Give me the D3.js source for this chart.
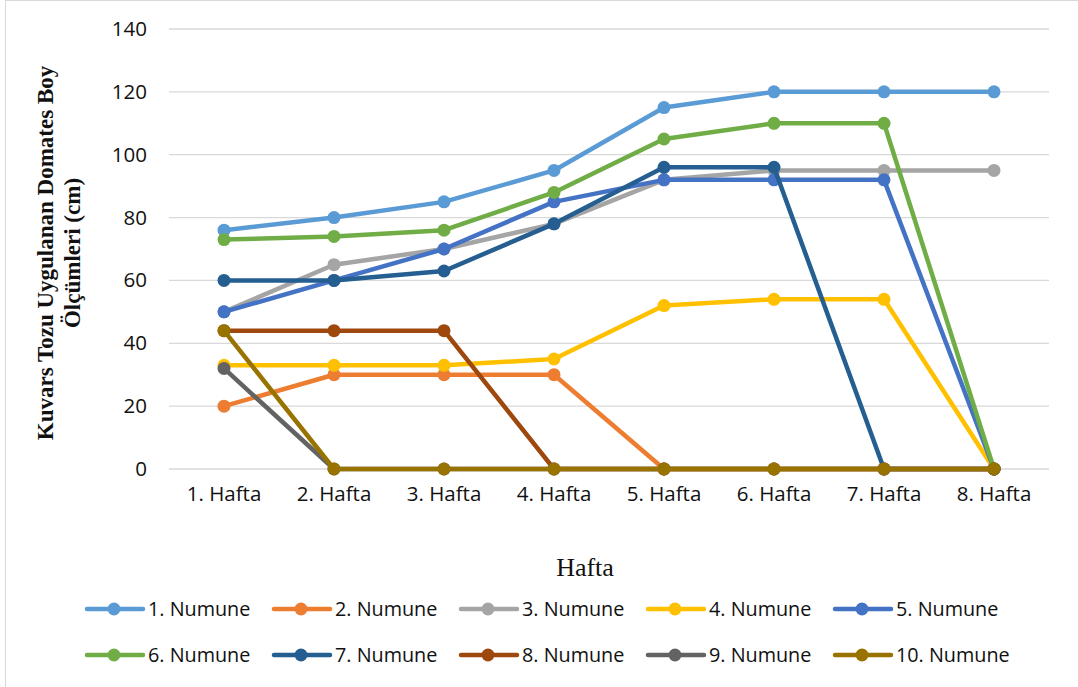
<!DOCTYPE html>
<html>
<head>
<meta charset="utf-8">
<script src="https://cdn.jsdelivr.net/npm/d3@7"></script>
<style>
  html, body { margin: 0; padding: 0; background: #fff; }
  svg { display: block; }
</style>
</head>
<body>
<svg id="chart" width="1078" height="687"></svg>
<script>
// Weeks on the x axis
const weeks = ["1. Hafta", "2. Hafta", "3. Hafta", "4. Hafta", "5. Hafta", "6. Hafta", "7. Hafta", "8. Hafta"];

// Plant height per sample (cm)
const numune1  = [76, 80, 85, 95, 115, 120, 120, 120];
const numune2  = [20, 30, 30, 30, 0, 0, 0, 0];
const numune3  = [50, 65, 70, 78, 92, 95, 95, 95];
const numune4  = [33, 33, 33, 35, 52, 54, 54, 0];
const numune5  = [50, 60, 70, 85, 92, 92, 92, 0];
const numune6  = [73, 74, 76, 88, 105, 110, 110, 0];
const numune7  = [60, 60, 63, 78, 96, 96, 0, 0];
const numune8  = [44, 44, 44, 0, 0, 0, 0, 0];
const numune9  = [32, 0, 0, 0, 0, 0, 0, 0];
const numune10 = [44, 0, 0, 0, 0, 0, 0, 0];

const seriesNames = ["1. Numune", "2. Numune", "3. Numune", "4. Numune", "5. Numune",
                     "6. Numune", "7. Numune", "8. Numune", "9. Numune", "10. Numune"];
const seriesValues = [numune1, numune2, numune3, numune4, numune5,
                      numune6, numune7, numune8, numune9, numune10];
const seriesColors = ["#5B9BD5", "#ED7D31", "#A5A5A5", "#FFC000", "#4472C4",
                      "#70AD47", "#255E91", "#9E480E", "#636363", "#997300"];

const yTicks = [0, 20, 40, 60, 80, 100, 120, 140];

const svg = d3.select("#chart");
const W = 1078, H = 687;
const plot = { left: 169, right: 1049, top: 29, bottom: 469 };

// outer chart frame
svg.append("rect")
  .attr("x", 5.5).attr("y", 0.5)
  .attr("width", W + 10).attr("height", H + 10)
  .attr("fill", "#fff").attr("stroke", "#d9d9d9").attr("stroke-width", 1);

const x = d3.scaleBand().domain(weeks).range([plot.left, plot.right]);
const y = d3.scaleLinear().domain([0, 140]).range([plot.bottom, plot.top]);

// horizontal gridlines
svg.append("g")
  .selectAll("line")
  .data(yTicks)
  .join("line")
  .attr("x1", plot.left).attr("x2", plot.right)
  .attr("y1", d => y(d)).attr("y2", d => y(d))
  .attr("stroke", "#d9d9d9").attr("stroke-width", 1.3);

// y axis labels
const yAxis = d3.axisLeft(y).tickValues(yTicks).tickSize(0).tickPadding(0);
const gy = svg.append("g").attr("transform", `translate(${plot.left - 22},0)`).call(yAxis);
gy.select(".domain").remove();
gy.selectAll("text")
  .attr("font-family", "'Open Sans', sans-serif")
  .attr("font-size", 20.5).attr("fill", "#111");

// x axis labels
const xAxis = d3.axisBottom(x).tickSize(0).tickPadding(0);
const gx = svg.append("g").attr("transform", `translate(0,${plot.bottom + 17})`).call(xAxis);
gx.select(".domain").remove();
gx.selectAll("text")
  .attr("font-family", "'Open Sans', sans-serif")
  .attr("font-size", 20.5).attr("fill", "#111");

// series lines and markers
const line = d3.line()
  .x((d, i) => x(weeks[i]) + x.bandwidth() / 2)
  .y(d => y(d));

seriesValues.forEach((vals, s) => {
  const g = svg.append("g");
  g.append("path")
    .datum(vals)
    .attr("d", line)
    .attr("fill", "none")
    .attr("stroke", seriesColors[s])
    .attr("stroke-width", 4.5)
    .attr("stroke-linejoin", "round");
  g.selectAll("circle")
    .data(vals)
    .join("circle")
    .attr("cx", (d, i) => x(weeks[i]) + x.bandwidth() / 2)
    .attr("cy", d => y(d))
    .attr("r", 6.5)
    .attr("fill", seriesColors[s]);
});

// axis titles
svg.append("text")
  .attr("x", 585).attr("y", 576)
  .attr("text-anchor", "middle")
  .attr("font-family", "'Liberation Serif', 'Times New Roman', serif")
  .attr("font-size", 26).attr("fill", "#111")
  .text("Hafta");

const yTitle = svg.append("text")
  .attr("transform", "translate(0,253) rotate(-90)")
  .attr("text-anchor", "middle")
  .attr("font-family", "'Liberation Serif', 'Times New Roman', serif")
  .attr("font-size", 23).attr("font-weight", "bold").attr("fill", "#111");
yTitle.append("tspan").attr("x", 0).attr("y", 53).text("Kuvars Tozu Uygulanan Domates Boy");
yTitle.append("tspan").attr("x", 0).attr("y", 80).text("Ölçümleri (cm)");

// legend: two rows of five
const legend = svg.append("g");
seriesNames.forEach((name, i) => {
  const col = i % 5, row = Math.floor(i / 5);
  const gx0 = 87 + col * 187, gy0 = 609 + row * 46;
  const item = legend.append("g").attr("transform", `translate(${gx0},${gy0})`);
  item.append("line")
    .attr("x1", 0).attr("x2", 56).attr("y1", 0).attr("y2", 0)
    .attr("stroke", seriesColors[i]).attr("stroke-width", 4.5)
    .attr("stroke-linecap", "round");
  item.append("circle").attr("cx", 27).attr("cy", 0).attr("r", 6.5).attr("fill", seriesColors[i]);
  item.append("text")
    .attr("x", 61).attr("y", 0).attr("dy", "0.35em")
    .attr("font-family", "'Open Sans', sans-serif")
    .attr("font-size", 19.8).attr("fill", "#111")
    .text(name);
});
</script>
</body>
</html>
